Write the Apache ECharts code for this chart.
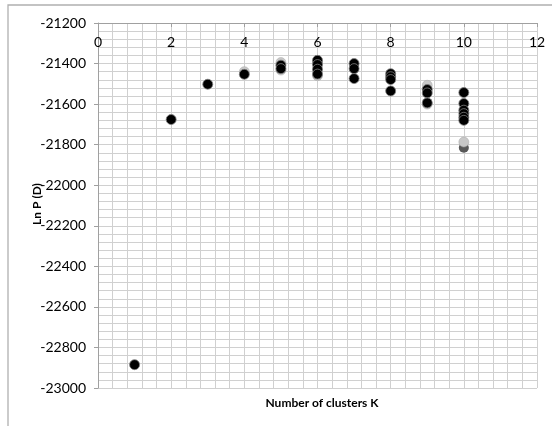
<!DOCTYPE html>
<html>
<head>
<meta charset="utf-8">
<script src="https://cdn.jsdelivr.net/npm/echarts@6/dist/echarts.min.js"></script>
<style>
  html, body { margin: 0; padding: 0; background: #fff; }
  #chart { width: 552px; height: 426px; }
</style>
</head>
<body>
<div id="chart"></div>
<script>
// main (black) runs
const blackK = [1, 2, 3, 4, 5, 5, 6, 6, 6, 6, 7, 7, 7, 8, 8, 8, 8, 9, 9, 9, 10, 10, 10, 10, 10, 10]
const blackLnP = [-22885, -21676, -21502, -21453, -21408, -21425, -21384, -21405, -21428, -21452,
  -21400, -21425, -21474, -21450, -21465, -21479, -21535, -21528, -21545, -21594,
  -21543, -21597, -21630, -21647, -21665, -21680]
// lighter runs mostly hidden behind the black ones
const grayK = [4, 5, 5, 6, 6, 9, 9, 10]
const grayLnP = [-21440, -21395, -21432, -21395, -21460, -21507, -21600, -21787]
const darkK = [10]
const darkLnP = [-21815]

const xTicks = { min: 0, max: 12, step: 2 }
const yTicks = { min: -23000, max: -21200, step: 200 }

const pairs = (xs, ys) => xs.map((x, i) => [x, ys[i]])

const font = 'Lato, "Open Sans", sans-serif'
const gridColor = '#d0d0d0'

const myChart = echarts.init(document.getElementById('chart'))
myChart.setOption({
  backgroundColor: '#fff',
  animation: false,
  grid: {
    left: 98,
    right: 15,
    top: 23,
    bottom: 38
  },
  title: {
    text: 'Number of clusters K',
    left: 317,
    textAlign: 'center',
    top: 392,
    textStyle: {
      fontFamily: font,
      fontSize: 12,
      fontWeight: 'bold',
      color: '#000'
    }
  },
  graphic: [
    {
      type: 'rect',
      shape: { x: 8, y: 5, width: 600, height: 500 },
      style: { fill: 'none', stroke: '#b0b0b0', lineWidth: 1.3 },
      silent: true
    },
    {
      // y axis title
      type: 'text',
      x: 37,
      y: 204,
      rotation: Math.PI / 2,
      style: {
        text: 'Ln P (D)',
        align: 'center',
        verticalAlign: 'middle',
        fontFamily: font,
        fontSize: 12,
        fontWeight: 'bold',
        fill: '#000'
      },
      silent: true
    }
  ],
  xAxis: {
    type: 'value',
    position: 'top',
    min: xTicks.min,
    max: xTicks.max,
    interval: xTicks.step,
    axisLine: { show: true, onZero: false, lineStyle: { color: '#a0a0a0', width: 1 } },
    axisTick: { show: true, inside: true, length: 4, lineStyle: { color: '#a0a0a0' } },
    axisLabel: {
      inside: true,
      margin: 12,
      color: '#000',
      fontFamily: font,
      fontSize: 14
    },
    splitLine: { show: true, lineStyle: { color: gridColor, width: 1 } },
    minorTick: { show: false, splitNumber: 5 },
    minorSplitLine: { show: true, lineStyle: { color: gridColor, width: 1 } }
  },
  yAxis: {
    type: 'value',
    min: yTicks.min,
    max: yTicks.max,
    interval: yTicks.step,
    axisLine: { show: true, onZero: false, lineStyle: { color: '#a0a0a0', width: 1 } },
    axisTick: { show: true, length: 4, lineStyle: { color: '#a0a0a0' } },
    axisLabel: {
      margin: 12,
      color: '#000',
      fontFamily: font,
      fontSize: 14,
      formatter: (v) => String(v)
    },
    splitLine: { show: true, lineStyle: { color: gridColor, width: 1 } },
    minorTick: { show: false, splitNumber: 5 },
    minorSplitLine: { show: true, lineStyle: { color: gridColor, width: 1 } }
  },
  series: [
    {
      name: 'dark',
      type: 'scatter',
      data: pairs(darkK, darkLnP),
      symbolSize: 10,
      itemStyle: { color: '#595959', borderColor: '#595959', borderWidth: 0, opacity: 1 }
    },
    {
      name: 'gray',
      type: 'scatter',
      data: pairs(grayK, grayLnP),
      symbolSize: 10,
      itemStyle: { color: '#c8c8c8', borderColor: '#a6a6a6', borderWidth: 0.5, opacity: 1 }
    },
    {
      name: 'black',
      type: 'scatter',
      data: pairs(blackK, blackLnP),
      symbolSize: 10,
      itemStyle: { color: '#000', borderColor: '#7f7f7f', borderWidth: 0.8, opacity: 1 }
    }
  ]
})
</script>
</body>
</html>
